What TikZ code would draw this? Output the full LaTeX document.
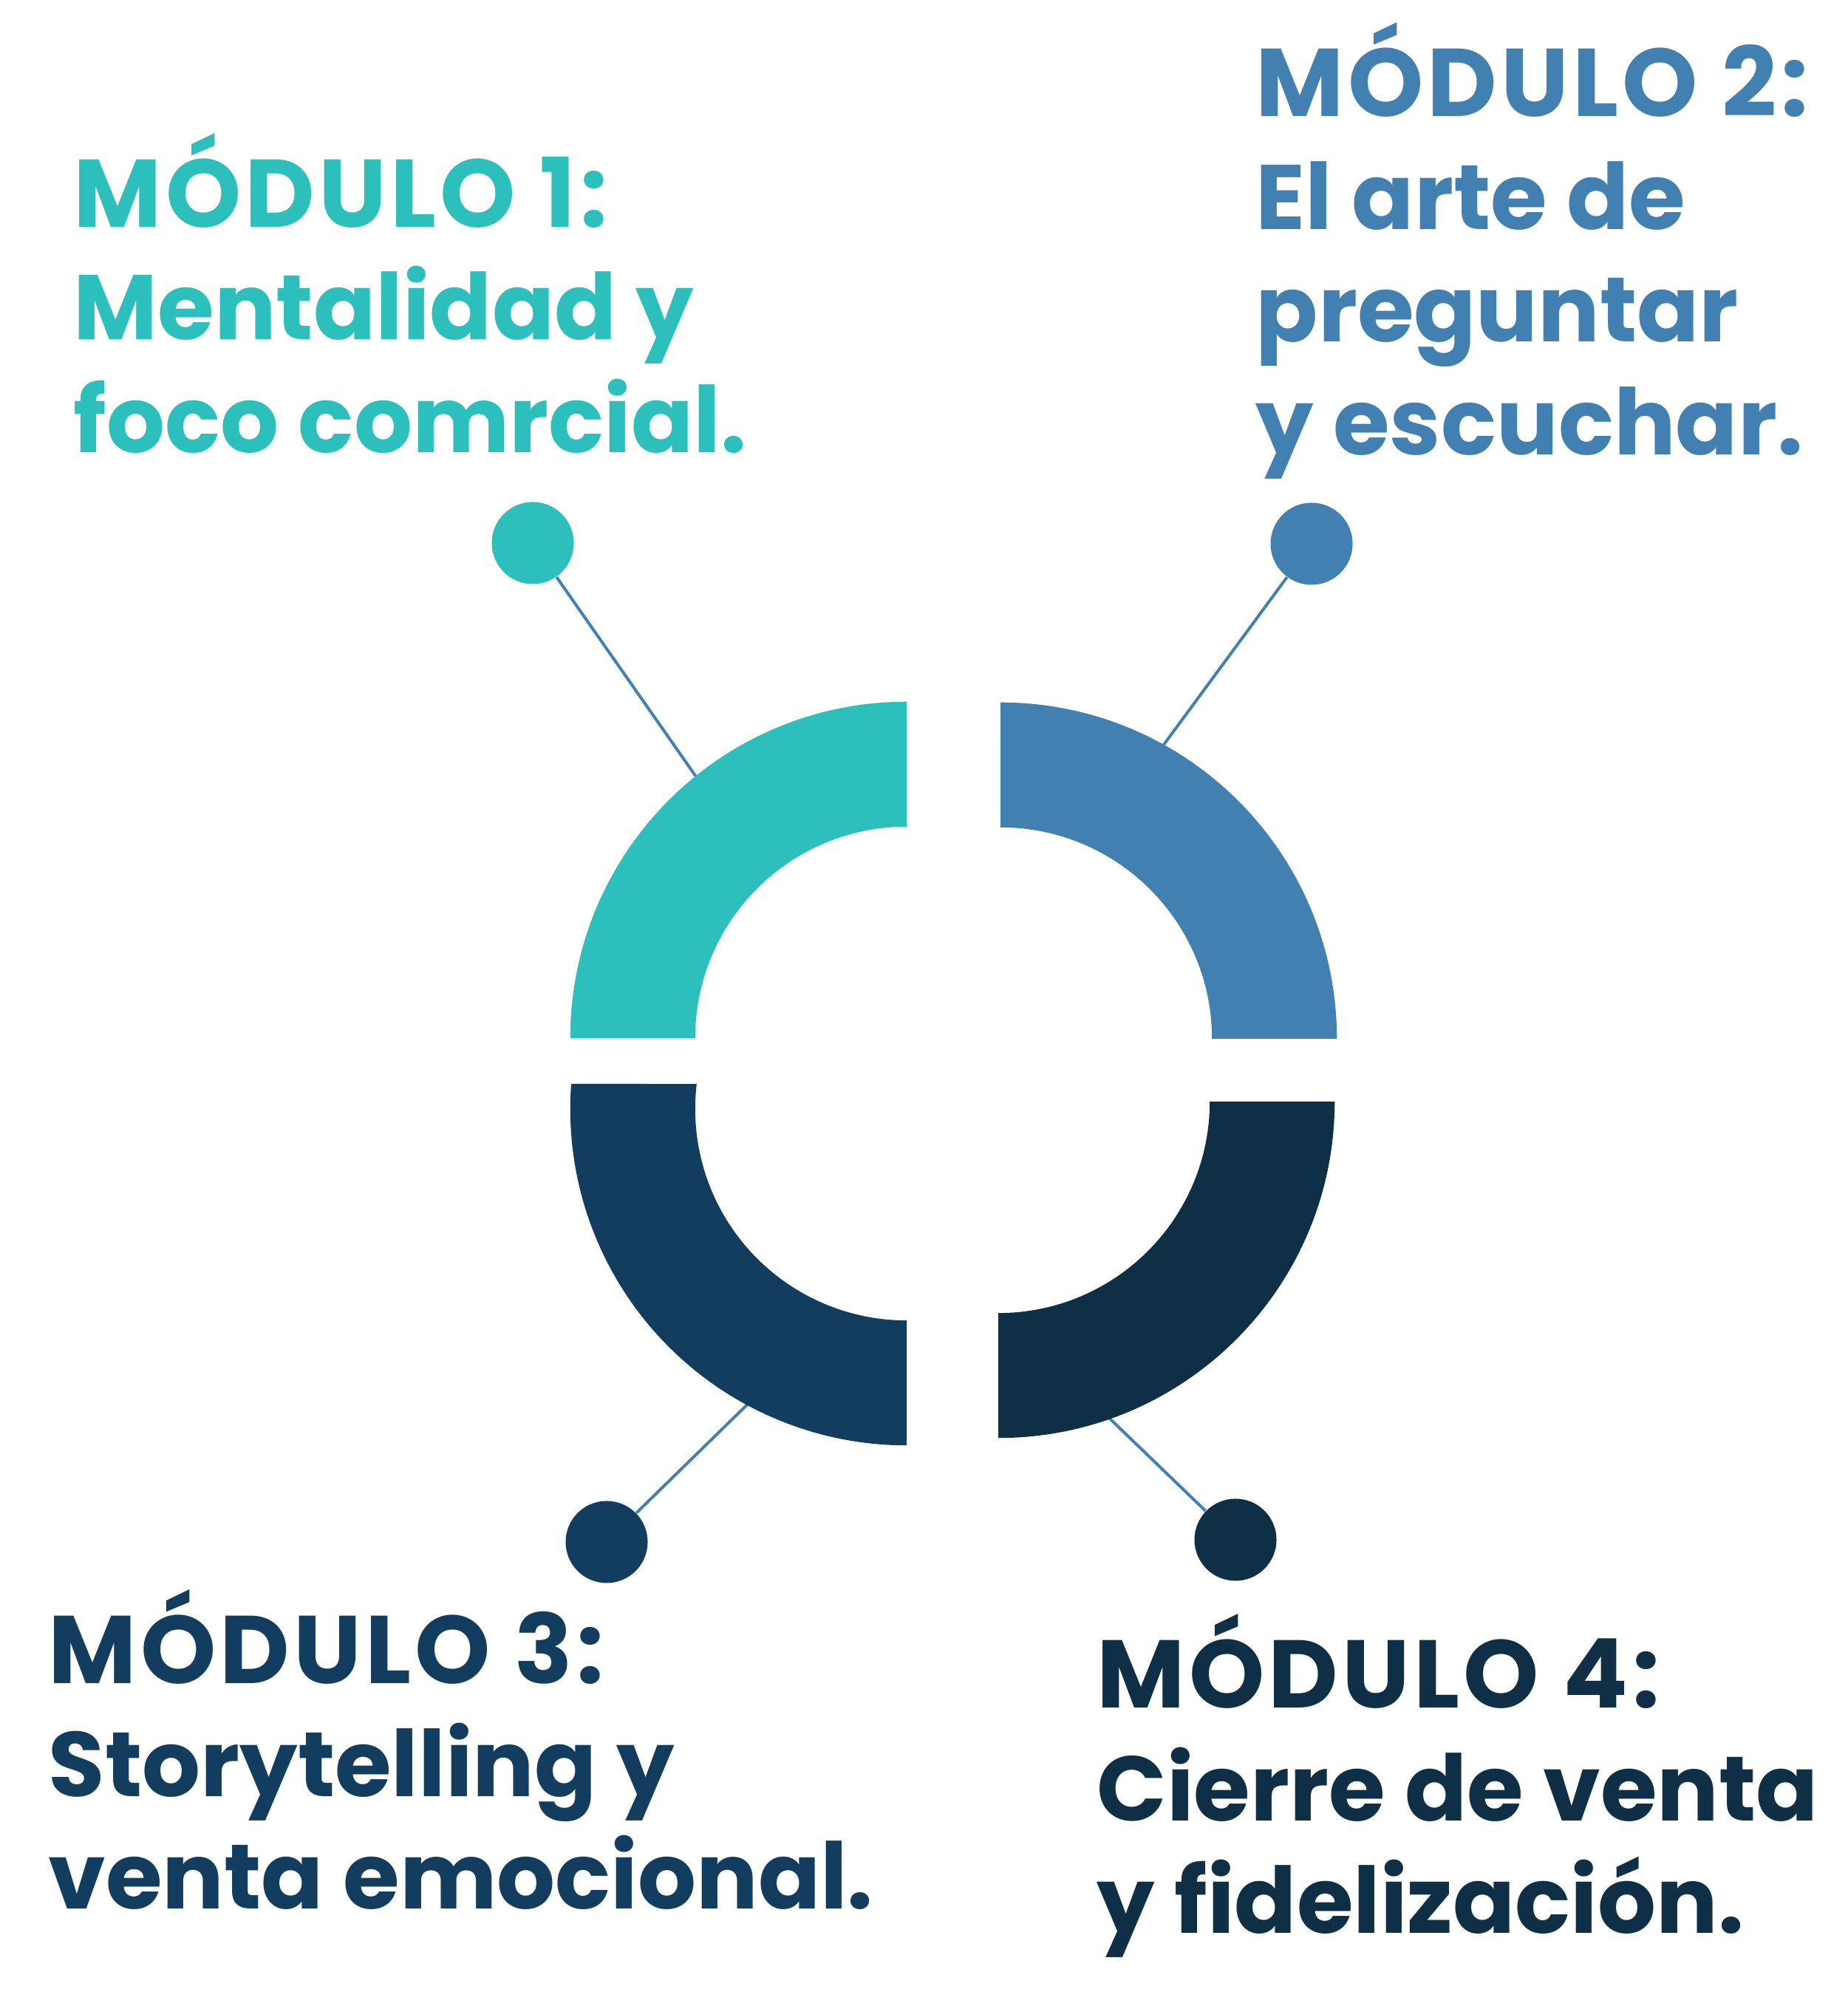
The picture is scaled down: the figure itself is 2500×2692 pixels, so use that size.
\documentclass[tikz,border=0pt]{standalone}
\usepackage{fontspec}
\setmainfont{Poppins}
\usepackage{tikz}
\definecolor{modone}{RGB}{44,191,188}
\definecolor{modtwo}{RGB}{66,128,178}
\definecolor{modthree}{RGB}{19,61,95}
\definecolor{modfour}{RGB}{14,47,69}
\newcommand\modhead[1]{{\fontsize{37}{43.5}\selectfont\addfontfeature{LetterSpace=4}#1}}
\tikzset{
  moddot/.style={circle, inner sep=0pt, minimum size=1.11cm},
  stemline/.style={modtwo, line width=0.04cm},
  modtext/.style={anchor=base west, align=left, inner sep=0pt,
    font=\bfseries\fontsize{35.3}{43.5}\selectfont},
}

\begin{document}
\begin{tikzpicture}[x=0.01cm, y=0.01cm]
	\def\ro{4.55cm}
	\def\ri{2.86cm}
	\useasboundingbox (0,0) rectangle (2500,2692);

	% centres of the four ring parts
	\coordinate (o1) at (1227,1287);
	\coordinate (o2) at (1354,1286);
	\coordinate (o3) at (1227,1191);
	\coordinate (o4) at (1351,1201);

	% dots and their stems (stem ends lie under the ring)
	\node[moddot, fill=modone]   (d1) at (721,1957) {};
	\node[moddot, fill=modtwo]   (d2) at (1775,1956) {};
	\node[moddot, fill=modthree] (d3) at (821,605) {};
	\node[moddot, fill=modfour]  (d4) at (1672,608) {};
	\coordinate (c1) at (974,1595);
	\coordinate (c2) at (1544,1642);
	\coordinate (c3) at (1043,822);
	\coordinate (c4) at (1476,797);
	\draw[stemline] (d1) -- (c1);
	\draw[stemline] (d2) -- (c2);
	\draw[stemline] (d3) -- (c3);
	\draw[stemline] (d4) -- (c4);

	% ring
	\fill[modone] ([shift={(90:\ro)}]o1) arc[start angle=90, end angle=180, radius=\ro]
		-- ([shift={(180:\ri)}]o1) arc[start angle=180, end angle=90, radius=\ri] -- cycle;
	\fill[modtwo] ([shift={(0:\ro)}]o2) arc[start angle=0, end angle=90, radius=\ro]
		-- ([shift={(90:\ri)}]o2) arc[start angle=90, end angle=0, radius=\ri] -- cycle;
	\fill[modthree] ([shift={(175.7:\ro)}]o3) arc[start angle=175.7, end angle=270, radius=\ro]
		-- ([shift={(270:\ri)}]o3) arc[start angle=270, end angle=173.2, radius=\ri] -- cycle;
	\fill[modfour] ([shift={(270:\ro)}]o4) arc[start angle=270, end angle=360, radius=\ro]
		-- ([shift={(0:\ri)}]o4) arc[start angle=0, end angle=-90, radius=\ri] -- cycle;

	% labels (anchored at the baseline of their last line)
	\node[modtext, modone]   (m1) at (99,2079) {\modhead{MÓDULO 1:}\\Mentalidad y\\foco comrcial.};
	\node[modtext, modtwo]   (m2) at (1699,2076) {\modhead{MÓDULO 2:}\\El arte de\\preguntar\\y escuchar.};
	\node[modtext, modthree] (m3) at (65,108) {\modhead{MÓDULO 3:}\\Storytelling y\\venta emocional.};
	\node[modtext, modfour]  (m4) at (1484,75) {\modhead{MÓDULO 4:}\\Cierre de venta\\y fidelización.};
\end{tikzpicture}
\end{document}
